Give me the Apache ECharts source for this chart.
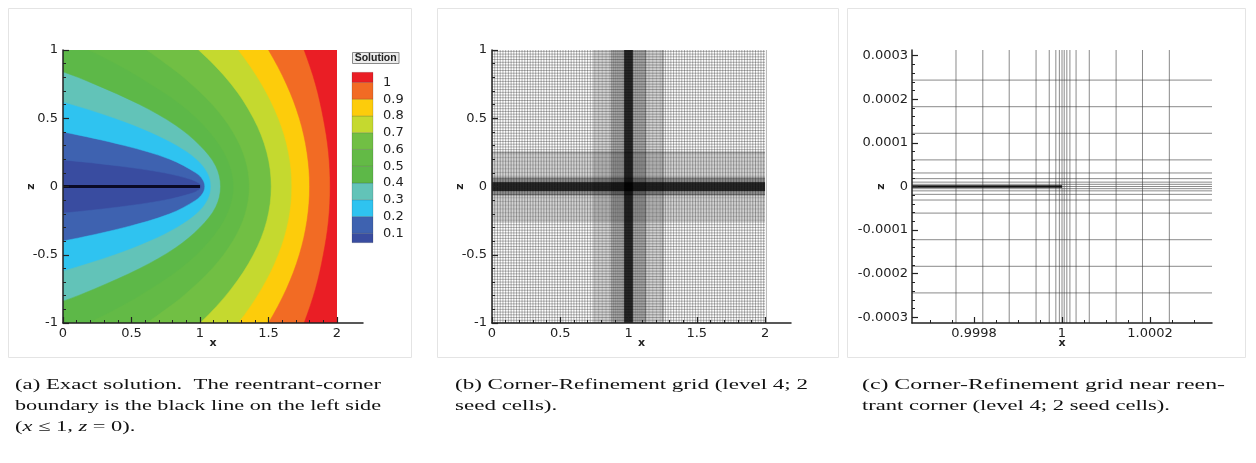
<!DOCTYPE html>
<html>
<head>
<meta charset="utf-8">
<script src="https://cdn.jsdelivr.net/npm/echarts@6/dist/echarts.min.js"></script>
<style>
  html, body { margin: 0; padding: 0; background: #fff; }
  #chart { width: 1256px; height: 463px; }
</style>
</head>
<body>
<div id="chart"></div>
<script>
// ---------- (a) exact solution: filled contour bands ----------
const solutionLevels = [0.1, 0.2, 0.3, 0.4, 0.5, 0.6, 0.7, 0.8, 0.9, 1.0];
const solutionColors = ['#394ca0', '#3e62b0', '#2fc3f0', '#62c3b8', '#5db848',
                        '#63ba46', '#71bf44', '#c5d92f', '#fdcc0b', '#f26b24', '#ea1e25'];

// contour lines [x, z], top to bottom; end points run just past the plot edges
const contour01 = [[-0.4,0.23],[0,0.195],[0.41,0.15],[0.74,0.1],[0.94,0.05],[0.99,0.025],[1.01,0],
                   [0.99,-0.025],[0.94,-0.05],[0.74,-0.1],[0.41,-0.15],[0,-0.195],[-0.4,-0.23]];
const contour02 = [[-0.4,0.47],[0,0.40],[0.45,0.3],[0.78,0.2],[0.97,0.1],[1.02,0.05],[1.035,0],
                   [1.02,-0.05],[0.97,-0.1],[0.78,-0.2],[0.45,-0.3],[0,-0.40],[-0.4,-0.47]];
const contour03 = [[-0.4,0.725],[0,0.62],[0.38,0.5],[0.635,0.4],[0.833,0.3],[0.975,0.2],[1.055,0.1],[1.08,0],
                   [1.055,-0.1],[0.975,-0.2],[0.833,-0.3],[0.635,-0.4],[0.38,-0.5],[0,-0.62],[-0.4,-0.725]];
const contour04 = [[-0.4,0.97],[0,0.84],[0.23,0.75],[0.56,0.6],[0.82,0.45],[1.0,0.3],[1.115,0.15],[1.15,0],
                   [1.115,-0.15],[1.0,-0.3],[0.82,-0.45],[0.56,-0.6],[0.23,-0.75],[0,-0.84],[-0.4,-0.97]];
const contour05 = [[-0.28,1.2],[0.185,1],[0.385,0.9],[0.56,0.8],[0.86,0.6],[1.07,0.4],[1.2,0.2],[1.245,0],
                   [1.2,-0.2],[1.07,-0.4],[0.86,-0.6],[0.56,-0.8],[0.385,-0.9],[0.185,-1],[-0.28,-1.2]];
const contour06 = [[0.29,1.2],[0.61,1],[0.75,0.9],[0.88,0.8],[1.09,0.6],[1.24,0.4],[1.33,0.2],[1.36,0],
                   [1.33,-0.2],[1.24,-0.4],[1.09,-0.6],[0.88,-0.8],[0.75,-0.9],[0.61,-1],[0.29,-1.2]];
const contour07 = [[0.74,1.2],[0.99,1],[1.228,0.75],[1.39,0.5],[1.488,0.25],[1.52,0],
                   [1.488,-0.25],[1.39,-0.5],[1.228,-0.75],[1.0,-1],[0.75,-1.2]];
const contour08 = [[1.10,1.2],[1.28,1],[1.45,0.75],[1.572,0.5],[1.646,0.25],[1.67,0],
                   [1.646,-0.25],[1.572,-0.5],[1.45,-0.75],[1.28,-1],[1.10,-1.2]];
const contour09 = [[1.37,1.2],[1.50,1],[1.631,0.75],[1.725,0.5],[1.781,0.25],[1.80,0],
                   [1.781,-0.25],[1.725,-0.5],[1.631,-0.75],[1.50,-1],[1.37,-1.2]];
const contour10 = [[1.68,1.2],[1.76,1],[1.843,0.75],[1.90,0.5],[1.938,0.25],[1.95,0],
                   [1.938,-0.25],[1.90,-0.5],[1.843,-0.75],[1.76,-1],[1.68,-1.2]];
const contourLines = [contour01, contour02, contour03, contour04, contour05,
                      contour06, contour07, contour08, contour09, contour10];

// reentrant-corner boundary (x <= 1, z = 0)
const slitA = [[0, 0], [1, 0]];

const xTicksAB = [0, 0.5, 1, 1.5, 2];
const xMinorAB = [0.1,0.2,0.3,0.4,0.6,0.7,0.8,0.9,1.1,1.2,1.3,1.4,1.6,1.7,1.8,1.9];

// ---------- (b) corner-refinement grid: [from, to, cell size] ----------
const meshXZones = [[0,0.75,0.02],[0.75,0.875,0.01],[0.875,0.96875,0.005],[0.96875,1.03125,0.00125],
                    [1.03125,1.125,0.005],[1.125,1.25,0.01],[1.25,2,0.02]];
const meshZZones = [[-1,-0.25,0.02],[-0.25,-0.0625,0.01],[-0.0625,-0.03125,0.004],[-0.03125,0.03125,0.00125],
                    [0.03125,0.0625,0.004],[0.0625,0.25,0.01],[0.25,1,0.02]];

// ---------- (c) grid lines near the corner, offsets from (1, 0) in units of 1e-4 ----------
const cornerXLines = [-2.41,-1.80,-1.20,-0.59,-0.29,-0.14,-0.06,0,0.05,0.11,0.18,0.32,0.62,1.23,1.83,2.44];
const cornerZLines = [2.44,1.83,1.22,0.61,0.31,0.18,0.10,0.05,0,-0.05,-0.10,-0.18,-0.31,-0.61,-1.22,-1.83,-2.44];
const cXRange = [-3.41, 3.41];
const cZRange = [-3.13, 3.13];
const xTicksC = [-2, 0, 2];
const xTickLabelsC = ['0.9998', '1', '1.0002'];
const zTicksC = [-3, -2, -1, 0, 1, 2, 3];
const zTickLabelsC = ['-0.0003', '-0.0002', '-0.0001', '0', '0.0001', '0.0002', '0.0003'];

// ---------- captions ----------
const captionA = ['(a) Exact solution.  The reentrant-corner', 'boundary is the black line on the left side', '({i|x} \u2264 1, {i|z} = 0).'];
const captionB = ['(b) Corner-Refinement grid (level 4; 2', 'seed cells).'];
const captionC = ['(c) Corner-Refinement grid near reen-', 'trant corner (level 4; 2 seed cells).'];

// ---------- helpers ----------
function zoneLines(zones) {
  const out = [];
  zones.forEach(([a, b, h]) => {
    const n = Math.round((b - a) / h);
    for (let k = 0; k <= n; k++) out.push(+(a + k * h).toFixed(6));
  });
  return Array.from(new Set(out));
}
function minorBetween(majors, step) {
  const out = [];
  for (let k = 0; k < majors.length - 1; k++) {
    for (let v = majors[k] + step; v < majors[k + 1] - 1e-9; v += step) out.push(+v.toFixed(6));
  }
  return out;
}

const meshXs = zoneLines(meshXZones);
const meshZs = zoneLines(meshZZones);
const meshSegmentsB = meshXs.map(x => [x, -1, x, 1]).concat(meshZs.map(z => [0, z, 2, z]));
const meshSegmentsC = cornerXLines.map(x => [x, cZRange[0], x, cZRange[1]])
  .concat(cornerZLines.map(z => [cXRange[0], z, cXRange[1], z]));

const axisLine = { show: true, onZero: false, lineStyle: { color: '#222', width: 1.5 } };
const tickFont = { fontFamily: 'DejaVu Sans', fontSize: 13, color: '#222' };
const nameFont = { fontFamily: 'DejaVu Sans', fontSize: 11, fontWeight: 'bold', color: '#222' };

function lineSegmentItem(color, width) {
  return function (params, api) {
    const p = api.coord([api.value(0), api.value(1)]);
    const q = api.coord([api.value(2), api.value(3)]);
    return { type: 'line', shape: { x1: p[0], y1: p[1], x2: q[0], y2: q[1] },
             style: { stroke: color, lineWidth: width } };
  };
}

function mainX(grid, min, max, ticks, fmt) {
  return {
    type: 'value', gridIndex: grid, min, max, position: 'bottom', z: 5,
    axisLine, splitLine: { show: false },
    axisTick: { show: true, inside: true, length: 6, customValues: ticks, lineStyle: { color: '#222', width: 1.2 } },
    axisLabel: Object.assign({ customValues: ticks, margin: 4, formatter: fmt }, tickFont),
    name: 'x', nameLocation: 'middle', nameGap: 15, nameMoveOverlap: false, nameTextStyle: nameFont
  };
}
function minorX(grid, min, max, ticks) {
  return {
    type: 'value', gridIndex: grid, min, max, position: 'bottom', z: 5,
    axisLine: { show: false, onZero: false }, splitLine: { show: false }, axisLabel: { show: false },
    axisTick: { show: true, inside: true, length: 3, customValues: ticks, lineStyle: { color: '#222', width: 1 } }
  };
}
function mainZ(grid) {
  return {
    type: 'value', gridIndex: grid, min: -1, max: 1, interval: 0.5, position: 'left', z: 5,
    axisLine, splitLine: { show: false },
    axisTick: { show: true, inside: true, length: 6, lineStyle: { color: '#222', width: 1.2 } },
    minorTick: { show: true, splitNumber: 5, length: 3, lineStyle: { color: '#222', width: 1 } },
    axisLabel: Object.assign({ margin: 5 }, tickFont),
    name: 'z', nameLocation: 'middle', nameGap: 26, nameRotate: 90, nameMoveOverlap: false, nameTextStyle: nameFont
  };
}

// ---------- caption layout (justified lines are stretched to the column width) ----------
const capFamily = '"Liberation Serif", "Times New Roman", serif';
const capSize = 15;
const measureCtx = document.createElement('canvas').getContext('2d');
function plainText(t) { return t.replace(/\{i\|([^}]*)\}/g, '$1'); }
function textWidth(t) { measureCtx.font = capSize + 'px ' + capFamily; return measureCtx.measureText(plainText(t)).width; }
function captionElements(lines, x, width, justified, lastWidth) {
  const scales = lines.map((t, k) => k < justified ? width / textWidth(t) : null);
  const base = scales.filter(s => s).reduce((a, b) => a + b, 0) / justified;
  return lines.map((t, k) => ({
    type: 'text', x: x, y: 385 + k * 21, scaleX: scales[k] || (lastWidth && k === lines.length - 1 ? lastWidth / textWidth(t) : base),
    style: { text: t, fontFamily: capFamily, fontSize: capSize, fill: '#111', verticalAlign: 'middle', align: 'left',
             rich: { i: { fontStyle: 'italic', fontFamily: capFamily, fontSize: capSize, fill: '#111' } } }
  }));
}

const frameStyle = { fill: 'none', stroke: '#e4e4e4', lineWidth: 1 };

const option = {
  animation: false,
  backgroundColor: '#ffffff',
  grid: [
    { left: 63, top: 50, width: 300, height: 273 },
    { left: 352, top: 72.3, width: 21, height: 170.4 },
    { left: 492, top: 50, width: 299, height: 273 },
    { left: 912, top: 50, width: 300, height: 273 }
  ],
  xAxis: [
    mainX(0, 0, 2.19, xTicksAB, v => String(v)),
    minorX(0, 0, 2.19, xMinorAB),
    { type: 'value', gridIndex: 1, min: 0, max: 1, show: false },
    mainX(2, 0, 2.19, xTicksAB, v => String(v)),
    minorX(2, 0, 2.19, xMinorAB),
    mainX(3, cXRange[0], cXRange[1], xTicksC, v => xTickLabelsC[xTicksC.indexOf(v)]),
    minorX(3, cXRange[0], cXRange[1], [-3, -2.5, -1.5, -1, -0.5, 0.5, 1, 1.5, 2.5, 3])
  ],
  yAxis: [
    mainZ(0),
    {
      type: 'value', gridIndex: 1, min: 0.044, max: 1.06, position: 'right',
      axisLine: { show: false, onZero: false }, axisTick: { show: false }, splitLine: { show: false },
      axisLabel: Object.assign({ customValues: solutionLevels, margin: 10, formatter: v => String(v) }, tickFont)
    },
    mainZ(2),
    {
      type: 'value', gridIndex: 3, min: cZRange[0], max: cZRange[1], position: 'left', z: 5,
      axisLine, splitLine: { show: false },
      axisTick: { show: true, inside: true, length: 6, customValues: zTicksC, lineStyle: { color: '#222', width: 1.2 } },
      axisLabel: Object.assign({ customValues: zTicksC, margin: 4, formatter: v => zTickLabelsC[zTicksC.indexOf(v)] }, tickFont),
      name: 'z', nameLocation: 'middle', nameGap: 25, nameRotate: 90, nameMoveOverlap: false, nameTextStyle: nameFont
    },
    {
      type: 'value', gridIndex: 3, min: cZRange[0], max: cZRange[1], position: 'left', z: 5,
      axisLine: { show: false, onZero: false }, splitLine: { show: false }, axisLabel: { show: false },
      axisTick: { show: true, inside: true, length: 3, customValues: minorBetween([-3, -2, -1, 0, 1, 2, 3], 0.2), lineStyle: { color: '#222', width: 1 } }
    }
  ],
  series: [
    {
      // filled contour bands of the solution, clipped to the domain [0,2] x [-1,1]
      type: 'custom', xAxisIndex: 0, yAxisIndex: 0, clip: false, progressive: 0,
      data: solutionColors.map((c, i) => [i, 0]),
      renderItem(params, api) {
        const i = api.value(0);
        const tl = api.coord([0, 1]);
        const br = api.coord([2, -1]);
        const clipPath = { type: 'rect', shape: { x: tl[0], y: tl[1], width: br[0] - tl[0], height: br[1] - tl[1] } };
        if (i === 0) {
          return { type: 'rect', shape: clipPath.shape, style: { fill: solutionColors[0] } };
        }
        const c = contourLines[i - 1];
        let pts = c.slice();
        if (c[0][0] < 0 && Math.abs(c[0][1]) < 1) pts = pts.concat([[-0.6, -2], [3, -2], [3, 2], [-0.6, 2]]);
        else pts = pts.concat([[3, -2], [3, 2]]);
        return { type: 'polygon', clipPath,
                 shape: { points: pts.map(p => api.coord(p)), smooth: 0.35 },
                 style: { fill: solutionColors[i], stroke: solutionColors[i], lineWidth: 0.5 } };
      }
    },
    {
      type: 'line', xAxisIndex: 0, yAxisIndex: 0, data: slitA, symbol: 'none', z: 4,
      lineStyle: { color: '#0a0a26', width: 3 }
    },
    {
      // colour legend
      type: 'custom', xAxisIndex: 2, yAxisIndex: 1, progressive: 0,
      data: solutionColors.map((c, i) => [i, 0]),
      renderItem(params, api) {
        const i = api.value(0);
        const lo = i === 0 ? 0.044 : solutionLevels[i - 1];
        const hi = i === solutionLevels.length ? 1.06 : solutionLevels[i];
        const p = api.coord([0, hi]);
        const q = api.coord([1, lo]);
        return { type: 'rect', shape: { x: p[0], y: p[1], width: q[0] - p[0], height: q[1] - p[1] },
                 style: { fill: solutionColors[i], stroke: 'rgba(40,40,40,0.35)', lineWidth: 0.5 } };
      }
    },
    {
      // level-4 refinement mesh
      type: 'custom', xAxisIndex: 3, yAxisIndex: 2, clip: true, progressive: 0,
      data: meshSegmentsB, renderItem: lineSegmentItem('rgba(0,0,0,0.42)', 0.7)
    },
    {
      // mesh lines close to the reentrant corner
      type: 'custom', xAxisIndex: 5, yAxisIndex: 3, clip: true, progressive: 0,
      data: meshSegmentsC, renderItem: lineSegmentItem('rgba(60,60,60,0.6)', 1)
    },
    {
      type: 'line', xAxisIndex: 5, yAxisIndex: 3, data: [[cXRange[0], 0], [0, 0]], symbol: 'none', z: 4,
      lineStyle: { color: '#111', width: 2.5 }
    }
  ],
  graphic: [
    { type: 'rect', shape: { x: 8.5, y: 8.5, width: 403, height: 349 }, style: frameStyle, silent: true },
    { type: 'rect', shape: { x: 437.5, y: 8.5, width: 401, height: 349 }, style: frameStyle, silent: true },
    { type: 'rect', shape: { x: 847.5, y: 8.5, width: 398, height: 349 }, style: frameStyle, silent: true },
    { type: 'rect', shape: { x: 352.5, y: 52.5, width: 46.5, height: 11 },
      style: { fill: '#ececec', stroke: '#8a8a8a', lineWidth: 1 } },
    { type: 'text', x: 375.7, y: 58.2,
      style: { text: 'Solution', fontFamily: 'Liberation Sans', fontSize: 10.5, fontWeight: 'bold', fill: '#222',
               align: 'center', verticalAlign: 'middle' } }
  ].concat(
    captionElements(captionA, 15, 366, 2),
    captionElements(captionB, 455, 353, 1),
    captionElements(captionC, 862, 363, 1, 308)
  )
};

const chart = echarts.init(document.getElementById('chart'), null, { renderer: 'canvas' });
chart.setOption(option);
</script>
</body>
</html>
